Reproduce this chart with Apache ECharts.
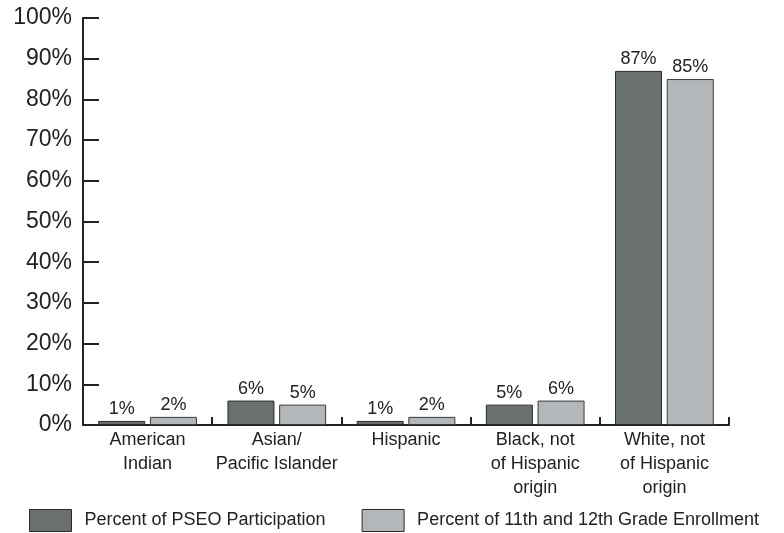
<!DOCTYPE html>
<html><head><meta charset="utf-8">
<script src="https://cdn.jsdelivr.net/npm/echarts@6/dist/echarts.min.js"></script>
<style>html,body{margin:0;padding:0;background:#fff}#c{width:784px;height:533px}</style>
</head><body><div id="c"></div>
<script>
const categories = ['American\nIndian', 'Asian/\nPacific Islander', 'Hispanic', 'Black, not\nof Hispanic\norigin', 'White, not\nof Hispanic\norigin'];
const pseo = [1, 6, 1, 5, 87];
const enrollment = [2, 5, 2, 6, 85];
const seriesNames = ['Percent of PSEO Participation', 'Percent of 11th and 12th Grade Enrollment'];
const font = '"Liberation Sans", Arial, sans-serif';
const chart = echarts.init(document.getElementById('c'), null, {renderer: 'canvas'});
const lbl = {show: true, position: 'top', formatter: '{c}%', color: '#222', fontSize: 18, fontFamily: font, distance: 3};
chart.setOption({
  animation: false,
  textStyle: {fontFamily: font},
  grid: {left: 83, right: 55, top: 18, bottom: 108, containLabel: false},
  legend: {
    left: 29, top: 509, padding: 0, itemWidth: 42, itemHeight: 22, itemGap: 36, icon: 'rect',
    itemStyle: {borderColor: '#2a2a2a', borderWidth: 1},
    textStyle: {fontSize: 18, color: '#222', fontFamily: font, padding: [0, 0, 0, 8]},
    data: seriesNames
  },
  xAxis: {
    type: 'category', data: categories,
    axisLine: {lineStyle: {color: '#222', width: 2}},
    axisTick: {show: true, inside: true, length: 8, lineStyle: {color: '#222', width: 2}},
    axisLabel: {interval: 0, fontSize: 18, color: '#222', lineHeight: 24, margin: 3, fontFamily: font}
  },
  yAxis: {
    type: 'value', min: 0, max: 100, interval: 10,
    axisLine: {show: true, lineStyle: {color: '#222', width: 2}},
    axisTick: {show: true, inside: true, length: 16, lineStyle: {color: '#222', width: 2}},
    splitLine: {show: false},
    axisLabel: {fontSize: 23, color: '#222', formatter: '{value}%', margin: 11, fontFamily: font}
  },
  series: [
    {name: seriesNames[0], type: 'bar', data: pseo, barWidth: 47, barGap: '10%',
     itemStyle: {color: '#6a706f', borderColor: '#2a2a2a', borderWidth: 1}, label: lbl},
    {name: seriesNames[1], type: 'bar', data: enrollment, barWidth: 47,
     itemStyle: {color: '#b3b7b9', borderColor: '#3a3a3a', borderWidth: 1}, label: lbl}
  ]
});
</script></body></html>
